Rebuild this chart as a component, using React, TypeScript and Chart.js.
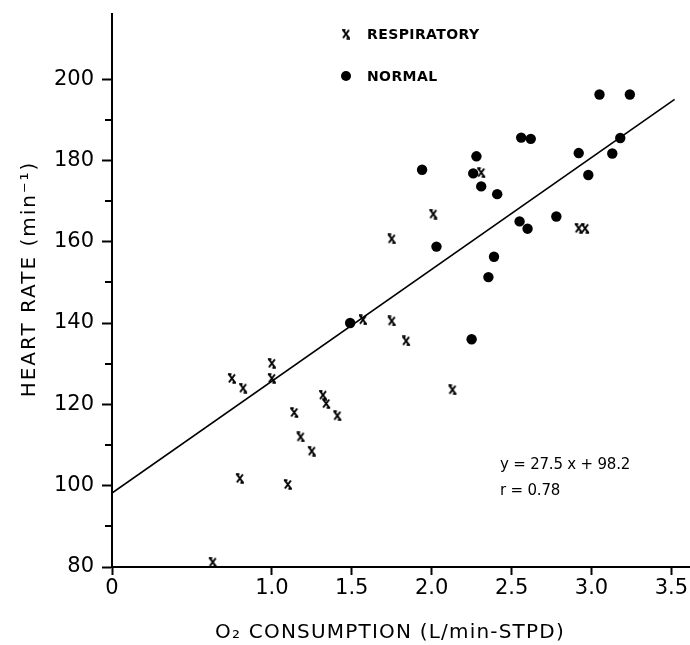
import React, { useEffect, useRef } from 'react';
import { Chart, registerables } from 'chart.js';

Chart.register(...registerables);

// ---- data ----
const respiratoryX = [0.63, 0.75, 0.82, 0.80, 1.00, 1.00, 1.10, 1.14, 1.18, 1.25, 1.32, 1.34, 1.41, 1.57, 1.75, 1.75, 1.84, 2.01, 2.13, 2.31, 2.92, 2.96];
const respiratoryY = [81.2, 126.4, 124.0, 101.8, 130.1, 126.4, 100.3, 118.0, 112.0, 108.5, 122.3, 120.2, 117.2, 140.8, 160.7, 140.5, 135.6, 166.8, 123.6, 177.0, 163.3, 163.3];

const normalX = [1.49, 1.94, 2.03, 2.25, 2.26, 2.28, 2.31, 2.355, 2.39, 2.41, 2.56, 2.62, 2.55, 2.60, 2.78, 2.92, 2.98, 3.05, 3.13, 3.18, 3.24];
const normalY = [140.0, 177.7, 158.8, 136.0, 176.8, 181.0, 173.6, 151.3, 156.3, 171.7, 185.6, 185.3, 165.0, 163.2, 166.2, 181.8, 176.4, 196.2, 181.7, 185.5, 196.2];

const fitSlope = 27.5;
const fitIntercept = 98.2;
const fitXRange = [0, 3.52];

const xTickValues = [0, 1.0, 1.5, 2.0, 2.5, 3.0, 3.5];
const yTickValues = [80, 100, 120, 140, 160, 180, 200];
const yMinorTickValues = [90, 110, 130, 150, 170, 190];

const legendLabels = ['RESPIRATORY', 'NORMAL'];
const equationLines = ['y = 27.5 x + 98.2', 'r = 0.78'];
const xTitle = 'O\u2082 CONSUMPTION (L/min-STPD)';
const yTitle = 'HEART RATE (min\u207B\u00B9)';

const FONT = '"DejaVu Sans", "Liberation Sans", sans-serif';

function makeXMarker(): HTMLCanvasElement {
  const c = document.createElement('canvas');
  c.width = 10;
  c.height = 11;
  const g = c.getContext('2d')!;
  g.strokeStyle = '#000';
  g.lineWidth = 2;
  g.beginPath();
  g.moveTo(2, 1.5); g.lineTo(8, 9.5);
  g.moveTo(8, 1.5); g.lineTo(2, 9.5);
  g.moveTo(1, 1.2); g.lineTo(4.5, 1.2);
  g.moveTo(5.5, 9.8); g.lineTo(9, 9.8);
  g.stroke();
  return c;
}

export default function App() {
  const canvasRef = useRef<HTMLCanvasElement | null>(null);

  useEffect(() => {
    document.body.style.margin = '0';
    const canvas = canvasRef.current;
    if (!canvas) return;
    const xMarker = makeXMarker();

    const annotate = {
      id: 'annotate',
      afterDraw(chart: any) {
        const { ctx, chartArea, scales } = chart;
        const y = scales.y;
        ctx.save();
        // minor y ticks
        ctx.strokeStyle = '#000';
        ctx.lineWidth = 2;
        yMinorTickValues.forEach((v) => {
          const py = Math.round(y.getPixelForValue(v));
          ctx.beginPath();
          ctx.moveTo(chartArea.left - 7, py);
          ctx.lineTo(chartArea.left, py);
          ctx.stroke();
        });
        ctx.fillStyle = '#000';
        // legend
        const lx = chartArea.left + 234;
        const ly = [chartArea.top + 20, chartArea.top + 62];
        ctx.drawImage(xMarker, lx - 5, ly[0] - 5.5);
        ctx.beginPath();
        ctx.arc(lx, ly[1], 5, 0, Math.PI * 2);
        ctx.fill();
        ctx.font = `bold 14px ${FONT}`;
        (ctx as any).letterSpacing = '0.4px';
        ctx.textBaseline = 'middle';
        ctx.textAlign = 'left';
        legendLabels.forEach((t, i) => ctx.fillText(t, lx + 21, ly[i] + 1));
        // regression equation
        ctx.font = `15px ${FONT}`;
        (ctx as any).letterSpacing = '-0.2px';
        ctx.fillText(equationLines[0], chartArea.left + 388, chartArea.top + 451);
        ctx.fillText(equationLines[1], chartArea.left + 388, chartArea.top + 477);
        // axis titles
        ctx.font = `20px ${FONT}`;
        (ctx as any).letterSpacing = '1.2px';
        ctx.textAlign = 'center';
        ctx.fillText(xTitle, chartArea.left + 278, chartArea.bottom + 66);
        ctx.save();
        ctx.translate(30, chartArea.top + 265);
        ctx.rotate(-Math.PI / 2);
        (ctx as any).letterSpacing = '2px';
        ctx.fillText(yTitle, 0, 0);
        ctx.restore();
        ctx.restore();
      },
    };

    const chart = new Chart(canvas, {
      type: 'scatter',
      data: {
        datasets: [
          {
            label: legendLabels[0],
            data: respiratoryX.map((x, i) => ({ x, y: respiratoryY[i] })),
            pointStyle: xMarker as any,
            pointRadius: 5,
            borderColor: '#000',
            backgroundColor: '#000',
          },
          {
            label: legendLabels[1],
            data: normalX.map((x, i) => ({ x, y: normalY[i] })),
            pointStyle: 'circle',
            pointRadius: 5.2,
            borderWidth: 0,
            backgroundColor: '#000',
            borderColor: '#000',
          },
          {
            type: 'line' as any,
            label: 'fit',
            data: fitXRange.map((x) => ({ x, y: fitSlope * x + fitIntercept })),
            borderColor: '#000',
            borderWidth: 1.6,
            pointRadius: 0,
            showLine: true,
            fill: false,
          },
        ],
      },
      options: {
        animation: false,
        responsive: true,
        maintainAspectRatio: false,
        devicePixelRatio: 1,
        layout: { autoPadding: false, padding: { top: 14, right: 1, left: 0, bottom: 0 } },
        plugins: {
          legend: { display: false },
          tooltip: { enabled: false },
          title: { display: false },
        },
        scales: {
          x: {
            type: 'linear',
            min: 0,
            max: 3.61,
            afterBuildTicks: (scale: any) => {
              scale.ticks = xTickValues.map((value) => ({ value }));
            },
            afterFit: (scale: any) => {
              scale.height = 78;
              scale.paddingLeft = 0;
              scale.paddingRight = 0;
            },
            grid: {
              drawOnChartArea: false,
              drawTicks: true,
              tickLength: 8,
              tickColor: '#000',
              tickWidth: 2,
            },
            border: { color: '#000', width: 2 },
            ticks: {
              color: '#000',
              padding: 1,
              maxRotation: 0,
              autoSkip: false,
              font: { family: FONT, size: 21 },
              callback: (v: any) => (Number(v) === 0 ? '0' : Number(v).toFixed(1)),
            },
          },
          y: {
            type: 'linear',
            min: 80,
            max: 216,
            afterBuildTicks: (scale: any) => {
              scale.ticks = yTickValues.map((value) => ({ value }));
            },
            afterFit: (scale: any) => {
              scale.width = 112;
              scale.paddingTop = 0;
              scale.paddingBottom = 0;
            },
            grid: {
              drawOnChartArea: false,
              drawTicks: true,
              tickLength: 10,
              tickColor: '#000',
              tickWidth: 2,
            },
            border: { color: '#000', width: 2 },
            ticks: {
              color: '#000',
              padding: 8,
              autoSkip: false,
              font: { family: FONT, size: 21 },
              callback: (v: any) => String(v),
            },
          },
        },
      },
      plugins: [annotate],
    });

    return () => chart.destroy();
  }, []);

  return (
    <div style={{ position: 'relative', width: 690, height: 645, background: '#fff' }}>
      <canvas ref={canvasRef} />
    </div>
  );
}
